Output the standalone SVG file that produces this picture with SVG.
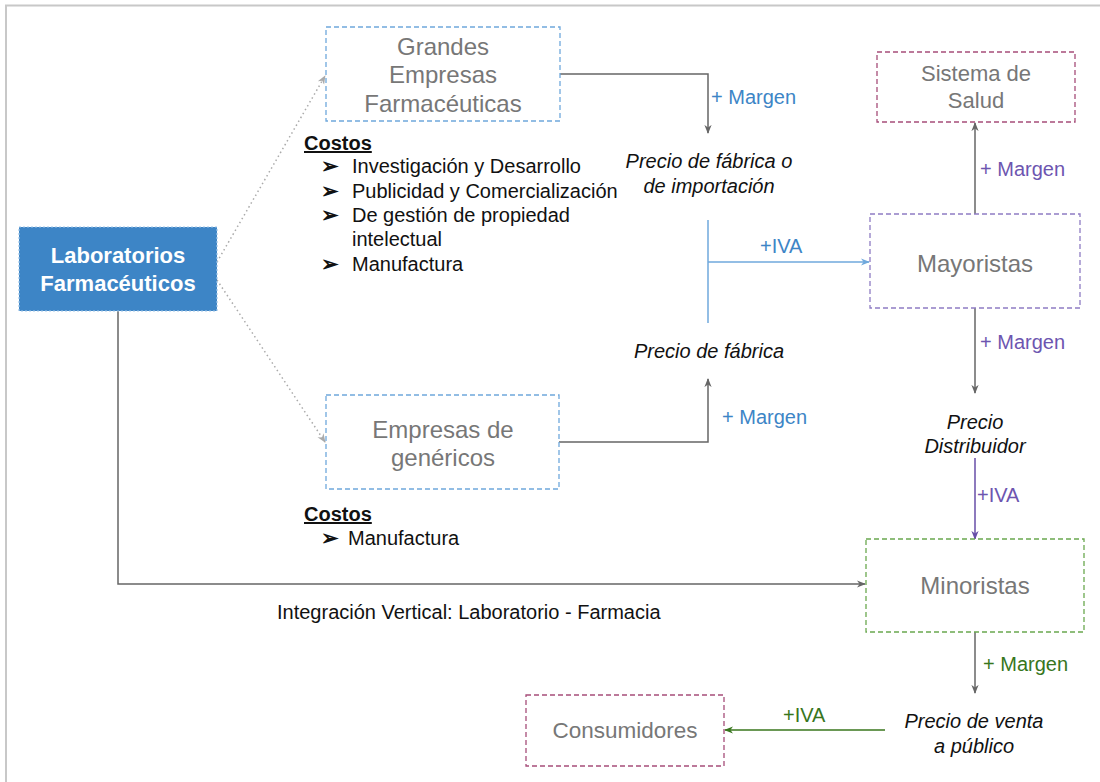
<svg xmlns="http://www.w3.org/2000/svg" width="1100" height="782" viewBox="0 0 1100 782">
  <defs>
    <style>
      text { font-family: "Liberation Sans", Arial, sans-serif; }
      .node { fill: #ffffff; stroke-width: 1.3; stroke-dasharray: 5 3; }
      .ntxt { fill: #777777; font-size: 24px; text-anchor: middle; }
      .ntxt.s22 { font-size: 22px; }
      .ntxt.s22b { font-size: 22.5px; }
      .body { fill: #111111; font-size: 20px; }
      .bul { fill: #111111; font-size: 21px; font-weight: bold; }
      .ital { fill: #111111; font-size: 20px; font-style: italic; text-anchor: middle; }
      .head { fill: #111111; font-size: 20px; font-weight: bold; text-decoration: underline; }
      .gray { stroke: #666666; stroke-width: 1.5; fill: none; }
      .dot { stroke: #aaaaaa; stroke-width: 1.5; stroke-dasharray: 1.5 3; fill: none; }
      .blue { stroke: #6fa8dc; stroke-width: 1.5; fill: none; }
      .purple { stroke: #674ea7; stroke-width: 1.5; fill: none; }
      .green { stroke: #38761d; stroke-width: 1.5; fill: none; }
      .tblue { fill: #3d85c6; font-size: 20px; }
      .tpurple { fill: #6d55b0; font-size: 20px; }
      .tgreen { fill: #38761d; font-size: 20px; }
    </style>
    <marker id="ahGray" viewBox="0 0 10 10" refX="9" refY="5" markerWidth="6" markerHeight="6" orient="auto">
      <path d="M0,1 L10,5 L0,9 L3,5 Z" fill="#666666"/>
    </marker>
    <marker id="ahDot" viewBox="0 0 10 10" refX="9" refY="5" markerWidth="6" markerHeight="6" orient="auto">
      <path d="M0,1 L10,5 L0,9 L3,5 Z" fill="#aaaaaa"/>
    </marker>
    <marker id="ahBlue" viewBox="0 0 10 10" refX="9" refY="5" markerWidth="6" markerHeight="6" orient="auto">
      <path d="M0,1 L10,5 L0,9 L3,5 Z" fill="#6fa8dc"/>
    </marker>
    <marker id="ahPurple" viewBox="0 0 10 10" refX="9" refY="5" markerWidth="6" markerHeight="6" orient="auto">
      <path d="M0,1 L10,5 L0,9 L3,5 Z" fill="#674ea7"/>
    </marker>
    <marker id="ahGreen" viewBox="0 0 10 10" refX="9" refY="5" markerWidth="6" markerHeight="6" orient="auto">
      <path d="M0,1 L10,5 L0,9 L3,5 Z" fill="#38761d"/>
    </marker>
  </defs>

  <rect width="1100" height="782" fill="#ffffff"/>
  <!-- page frame -->
  <path d="M6,782 V5.5 H1100" stroke="#c8c8c8" stroke-width="2" fill="none"/>

  <g id="connectors">
    <!-- Laboratorios to the two company types -->
    <path class="dot" d="M217,262 L325,76" marker-end="url(#ahDot)"/>
    <path class="dot" d="M217,280 L325,442" marker-end="url(#ahDot)"/>
    <!-- big pharma to factory/import price -->
    <path class="gray" d="M560,74 H708 V133" marker-end="url(#ahGray)"/>
    <!-- generics to factory price -->
    <path class="gray" d="M559,442 H708 V379" marker-end="url(#ahGray)"/>
    <!-- factory prices to wholesalers -->
    <path class="blue" d="M708,220 V323"/>
    <path class="blue" d="M708,262 H869" marker-end="url(#ahBlue)"/>
    <!-- wholesalers to health system -->
    <path class="gray" d="M975,214 V123" marker-end="url(#ahGray)"/>
    <!-- wholesalers to distributor price -->
    <path class="gray" d="M975,308 V393" marker-end="url(#ahGray)"/>
    <!-- distributor price to retailers -->
    <path class="purple" d="M975,458 V539" marker-end="url(#ahPurple)"/>
    <!-- vertical integration -->
    <path class="gray" d="M118,311 V584 H865" marker-end="url(#ahGray)"/>
    <!-- retailers to public price -->
    <path class="gray" d="M975,632 V693" marker-end="url(#ahGray)"/>
    <!-- public price to consumers -->
    <path class="green" d="M885,730 H725" marker-end="url(#ahGreen)"/>
  </g>

  <g id="labels">
    <text class="tblue" x="711" y="104">+ Margen</text>
    <text class="tblue" x="722" y="424">+ Margen</text>
    <text class="tblue" x="760" y="253">+IVA</text>
    <text class="tpurple" x="980" y="176">+ Margen</text>
    <text class="tpurple" x="980" y="349">+ Margen</text>
    <text class="tpurple" x="977" y="502">+IVA</text>
    <text class="tgreen" x="983" y="671">+ Margen</text>
    <text class="tgreen" x="783" y="722">+IVA</text>
    <text class="ital" x="709" y="168">Precio de fábrica o</text>
    <text class="ital" x="709" y="193">de importación</text>
    <text class="ital" x="709" y="358">Precio de fábrica</text>
    <text class="ital" x="975" y="429">Precio</text>
    <text class="ital" x="975" y="453">Distribuidor</text>
    <text class="ital" x="974" y="728">Precio de venta</text>
    <text class="ital" x="974" y="753">a público</text>
    <text class="body" x="277" y="619">Integración Vertical: Laboratorio - Farmacia</text>
  </g>

  <g id="costos-grandes">
    <text class="head" x="304" y="150">Costos</text>
    <text class="bul" x="321" y="173">➢</text>
    <text class="body" x="352" y="173">Investigación y Desarrollo</text>
    <text class="bul" x="321" y="198">➢</text>
    <text class="body" x="352" y="198">Publicidad y Comercialización</text>
    <text class="bul" x="321" y="222">➢</text>
    <text class="body" x="352" y="222">De gestión de propiedad</text>
    <text class="body" x="352" y="246">intelectual</text>
    <text class="bul" x="321" y="271">➢</text>
    <text class="body" x="352" y="271">Manufactura</text>
  </g>

  <g id="costos-genericos">
    <text class="head" x="304" y="521">Costos</text>
    <text class="bul" x="321" y="545">➢</text>
    <text class="body" x="348" y="545">Manufactura</text>
  </g>

  <g id="laboratorios">
    <rect x="19" y="227" width="198" height="84" fill="#3d85c6" stroke="#9fc5e8" stroke-width="1.2" stroke-dasharray="2 2"/>
    <text x="118" y="263" fill="#ffffff" font-size="22" font-weight="bold" text-anchor="middle">Laboratorios</text>
    <text x="118" y="291" fill="#ffffff" font-size="22" font-weight="bold" text-anchor="middle">Farmacéuticos</text>
  </g>

  <g id="grandes-empresas">
    <rect class="node" x="326" y="27" width="234" height="94" stroke="#6fa8dc"/>
    <text class="ntxt" x="443" y="55">Grandes</text>
    <text class="ntxt" x="443" y="83">Empresas</text>
    <text class="ntxt" x="443" y="112">Farmacéuticas</text>
  </g>

  <g id="empresas-genericos">
    <rect class="node" x="326" y="395" width="233" height="94" stroke="#6fa8dc"/>
    <text class="ntxt" x="443" y="438">Empresas de</text>
    <text class="ntxt" x="443" y="466">genéricos</text>
  </g>

  <g id="sistema-salud">
    <rect class="node" x="877" y="52" width="198" height="70" stroke="#a64d79"/>
    <text class="ntxt s22" x="976" y="81">Sistema de</text>
    <text class="ntxt s22" x="976" y="108">Salud</text>
  </g>

  <g id="mayoristas">
    <rect class="node" x="870" y="214" width="210" height="94" stroke="#8e7cc3"/>
    <text class="ntxt" x="975" y="272">Mayoristas</text>
  </g>

  <g id="minoristas">
    <rect class="node" x="866" y="539" width="218" height="93" stroke="#6aa84f"/>
    <text class="ntxt" x="975" y="594">Minoristas</text>
  </g>

  <g id="consumidores">
    <rect class="node" x="526" y="695" width="198" height="71" stroke="#a64d79"/>
    <text class="ntxt s22b" x="625" y="738">Consumidores</text>
  </g>
</svg>
